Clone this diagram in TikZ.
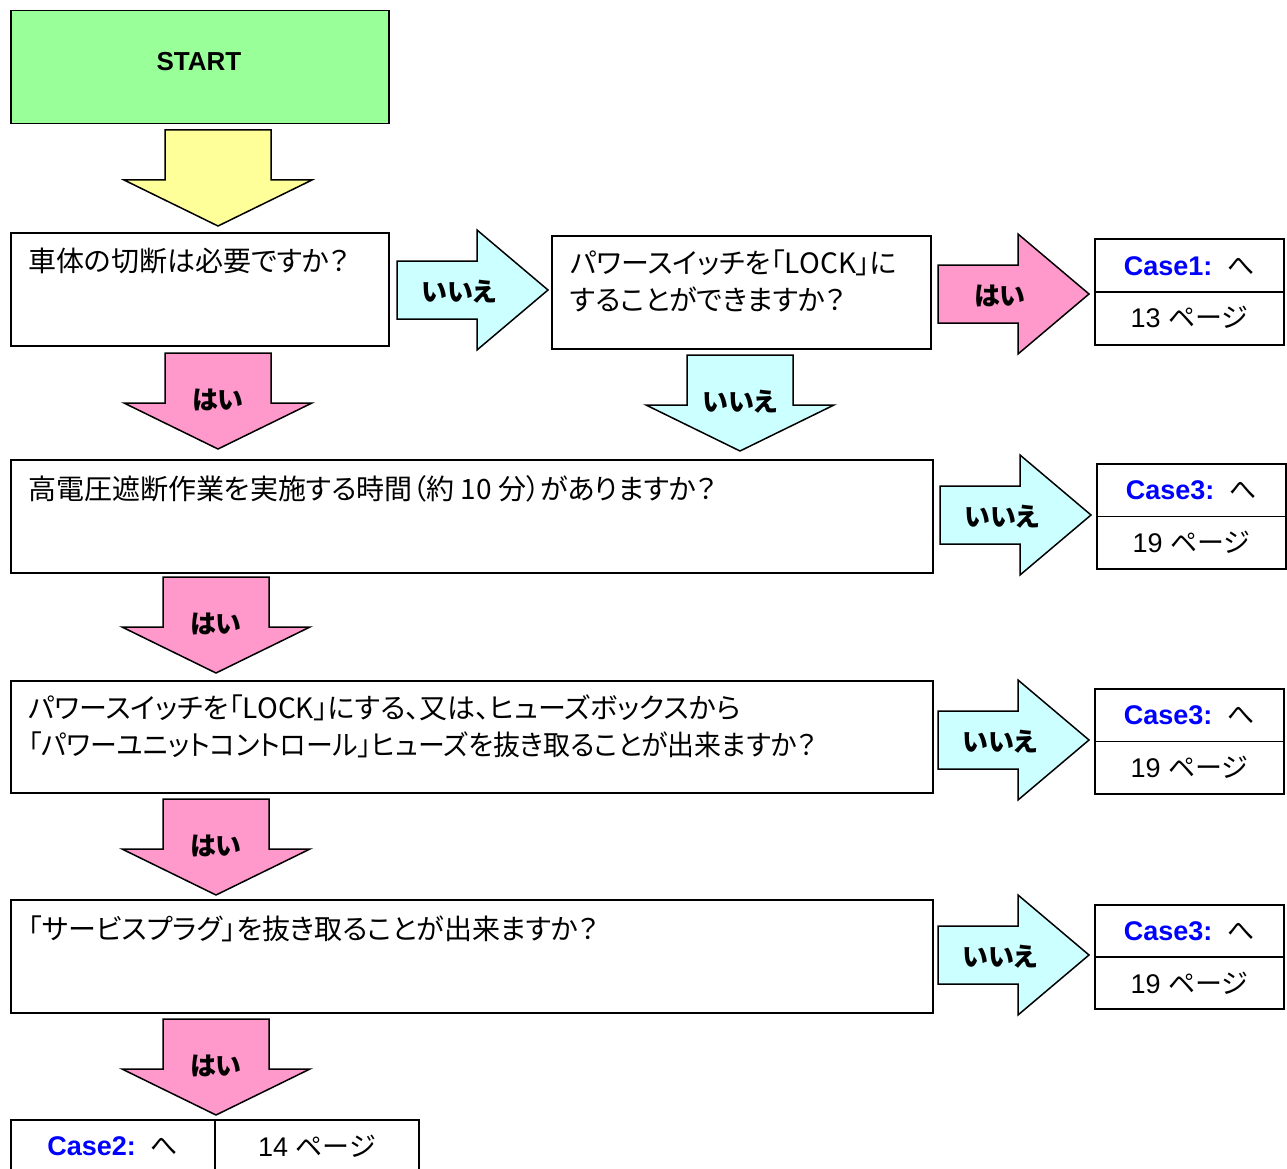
\documentclass[tikz,border=0pt]{standalone}
\usepackage{fontspec}
\usepackage{xcolor}
\setmainfont{Liberation Sans}
\newfontfamily\jp{Noto Sans CJK JP}[RawFeature=+palt]

\definecolor{startgreen}{HTML}{99FF99}
\definecolor{startyellow}{HTML}{FFFF99}
\definecolor{yespink}{HTML}{FF99CC}
\definecolor{nocyan}{HTML}{CCFFFF}
\definecolor{caseblue}{HTML}{0000FF}

\tikzset{
  box/.style={draw, line width=1.5pt, fill=white, inner sep=0pt},
  qtext/.style={anchor=north west, inner sep=0pt, align=left, font=\jp\fontsize{28}{37}\selectfont},
  lbl/.style={font=\jp\bfseries\fontsize{26}{30}\selectfont},
  arrowline/.style={line width=1.5pt, line join=miter},
  casetxt/.style={font=\fontsize{27}{30}\selectfont},
}

% block arrows: x centre / left, y top / centre, fill, label
\newcommand{\flowdown}[4]{%
  \draw[arrowline, fill=#3] (#1-53,#2) -- (#1+53,#2) -- (#1+53,#2+50) -- (#1+94,#2+50)
    -- (#1,#2+96) -- (#1-94,#2+50) -- (#1-53,#2+50) -- cycle;
  \node[lbl] at (#1,#2+47) {#4};}
\newcommand{\flowright}[4]{%
  \draw[arrowline, fill=#3] (#1,#2-29) -- (#1+80,#2-29) -- (#1+80,#2-60) -- (#1+151,#2)
    -- (#1+80,#2+60) -- (#1+80,#2+29) -- (#1,#2+29) -- cycle;
  \node[lbl] at (#1+62,#2+2) {#4};}

\begin{document}
\begin{tikzpicture}[x=1pt,y=-1pt]
  \useasboundingbox (0,0) rectangle (1287,1169);
  \clip (0,0) rectangle (1287,1169);

  % start
  \node[box, fill=startgreen, anchor=north west, minimum width=378, minimum height=113] (start) at (10,10) {};
  \node[font=\bfseries\fontsize{26}{30}\selectfont] (startt) at (199,62) {START};
  \flowdown{218}{130}{startyellow}{}

  % question 1
  \node[box, anchor=north west, minimum width=378, minimum height=113] (q1) at (10,232) {};
  \node[qtext] (q1t) at (28,248) {車体の切断は必要ですか？};
  \flowright{397}{290}{nocyan}{いいえ}

  % question 2
  \node[box, anchor=north west, minimum width=379, minimum height=113] (q2) at (551,235) {};
  \node[qtext] (q2t) at (570,250) {パワースイッチを「LOCK」に\\することができますか？};
  \flowright{938}{294}{yespink}{はい}

  \node[box, anchor=north west, minimum width=189, minimum height=106] (case1) at (1094,238) {};
  \draw[line width=1.5pt] (case1.west) -- (case1.east);
  \node[casetxt] (case1a) at ([yshift=26pt]case1.center) {{\color{caseblue}\bfseries Case1:}\ \ {\jp へ}};
  \node[casetxt] (case1b) at ([yshift=-26pt]case1.center) {13 {\jp ページ}};

  \flowdown{218}{353}{yespink}{はい}
  \flowdown{740}{355}{nocyan}{いいえ}

  % question 3
  \node[box, anchor=north west, minimum width=922, minimum height=113] (q3) at (10,459) {};
  \node[qtext] (q3t) at (28,475) {高電圧遮断作業を実施する時間（約 10 分）がありますか？};
  \flowright{940}{515}{nocyan}{いいえ}

  \node[box, anchor=north west, minimum width=189, minimum height=105] (case3a) at (1096,463) {};
  \draw[line width=1.5pt] (case3a.west) -- (case3a.east);
  \node[casetxt] at ([yshift=26pt]case3a.center) {{\color{caseblue}\bfseries Case3:}\ \ {\jp へ}};
  \node[casetxt] at ([yshift=-26pt]case3a.center) {19 {\jp ページ}};

  \flowdown{216}{577}{yespink}{はい}

  % question 4
  \node[box, anchor=north west, minimum width=922, minimum height=112] (q4) at (10,680) {};
  \node[qtext] (q4t) at (28,695) {パワースイッチを「LOCK」にする、又は、ヒューズボックスから\\\scalebox{0.96}[1]{「パワーユニットコントロール」ヒューズを抜き取ることが出来ますか？}};
  \flowright{938}{740}{nocyan}{いいえ}

  \node[box, anchor=north west, minimum width=189, minimum height=105] (case3b) at (1094,688) {};
  \draw[line width=1.5pt] (case3b.west) -- (case3b.east);
  \node[casetxt] at ([yshift=26pt]case3b.center) {{\color{caseblue}\bfseries Case3:}\ \ {\jp へ}};
  \node[casetxt] at ([yshift=-26pt]case3b.center) {19 {\jp ページ}};

  \flowdown{216}{799}{yespink}{はい}

  % question 5
  \node[box, anchor=north west, minimum width=922, minimum height=113] (q5) at (10,899) {};
  \node[qtext] (q5t) at (28,916) {「サービスプラグ」を抜き取ることが出来ますか？};
  \flowright{938}{955}{nocyan}{いいえ}

  \node[box, anchor=north west, minimum width=189, minimum height=104] (case3c) at (1094,904) {};
  \draw[line width=1.5pt] (case3c.west) -- (case3c.east);
  \node[casetxt] at ([yshift=26pt]case3c.center) {{\color{caseblue}\bfseries Case3:}\ \ {\jp へ}};
  \node[casetxt] at ([yshift=-26pt]case3c.center) {19 {\jp ページ}};

  \flowdown{216}{1019}{yespink}{はい}

  % result
  \node[box, anchor=north west, minimum width=408, minimum height=106] (case2) at (10,1119) {};
  \draw[line width=1.5pt] (case2.north) -- (case2.south);
  \node[casetxt] at ([xshift=-102pt,yshift=-27pt]case2.north) {{\color{caseblue}\bfseries Case2:}\ \ {\jp へ}};
  \node[casetxt] at ([xshift=102pt,yshift=-27pt]case2.north) {14 {\jp ページ}};
\end{tikzpicture}
\end{document}
